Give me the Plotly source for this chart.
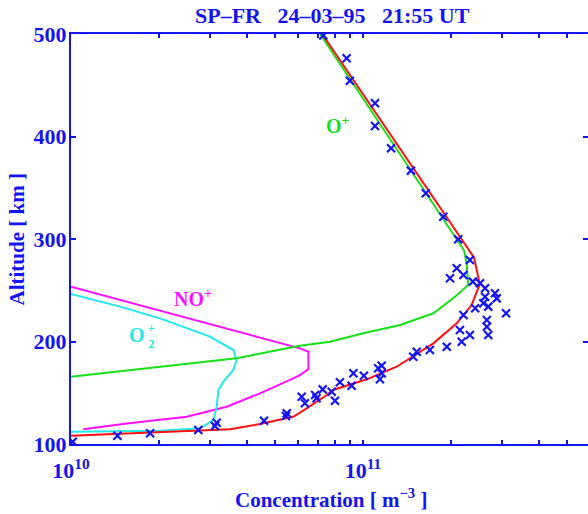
import numpy as np
import plotly.graph_objects as go

BLUE = "#1414f0"
FONT = "Liberation Serif"

# Model profiles: log10(concentration / m^-3) versus altitude (km)
ne_log = [10.0, 10.29, 10.545, 10.647, 10.761, 10.807, 10.876, 10.897, 11.013,
          11.115, 11.16, 11.241, 11.321, 11.372, 11.40, 11.38, 10.86]
ne_alt = [108.0, 111.0, 114.3, 119.5, 126.6, 134.8, 147.8, 152.7, 163.1,
          175.4, 183.6, 198.2, 217.8, 235.6, 256.0, 282.0, 500.0]

op_log = [10.0, 10.305, 10.567, 10.784, 10.887, 11.001, 11.127, 11.241, 11.309,
          11.36, 11.355, 11.346, 10.853]
op_alt = [165.7, 175.4, 183.6, 195.9, 199.8, 208.0, 216.1, 227.5, 242.1,
          255.0, 276.0, 289.0, 500.0]

nop_log = [10.0, 10.419, 10.784, 10.813, 10.813, 10.784, 10.761, 10.647, 10.533,
           10.396, 10.191, 10.042]
nop_alt = [253.5, 221.0, 193.3, 190.0, 173.0, 167.3, 164.0, 149.4, 136.4,
           126.6, 120.0, 114.3]

o2p_log = [10.0, 10.168, 10.305, 10.476, 10.556, 10.567, 10.556, 10.522, 10.505,
           10.499, 10.488, 10.442, 10.305, 10.0]
o2p_alt = [246.3, 234.0, 222.6, 204.7, 191.7, 182.0, 172.2, 160.8, 152.7,
           136.4, 123.4, 115.3, 113.0, 112.0]

# Measured electron density (radar)
obs_log = [10.006, 10.159, 10.271, 10.436, 10.493, 10.499, 10.661, 10.736, 10.739,
           10.790, 10.801, 10.836, 10.841, 10.862, 10.893, 10.904, 10.921, 10.961,
           10.967, 11.003, 11.052, 11.064, 11.058, 11.064, 11.172, 11.184, 11.229,
           11.287, 11.338, 11.332, 11.366, 11.429, 11.424, 11.424, 11.344, 11.490,
           11.384, 11.429, 11.412, 11.418, 11.458, 11.452, 11.418, 11.401, 11.376,
           11.298, 11.344, 11.321, 11.366, 11.326, 11.275, 11.215, 11.164, 11.096,
           11.041, 11.041, 10.955, 10.944, 10.864]
obs_alt = [102.2, 108.1, 110.4, 113.6, 117.6, 120.8, 122.7, 127.3, 130.0,
           146.1, 139.7, 147.8, 144.6, 153.3, 151.0, 142.2, 160.2, 156.9,
           169.0, 166.6, 173.9, 176.4, 163.1, 169.0, 185.2, 190.0, 191.7,
           194.9, 199.8, 211.2, 206.3, 206.3, 214.4, 221.0, 225.9, 227.5,
           232.4, 234.0, 237.3, 243.7, 242.1, 247.0, 251.9, 256.8, 258.4,
           261.7, 264.9, 271.4, 279.5, 299.7, 321.8, 344.6, 366.7, 388.5,
           410.2, 432.4, 454.4, 476.3, 498.5]

alt_ticks = [100, 200, 300, 400, 500]
conc_ticks = [1e10, 2e10, 3e10, 4e10, 5e10, 6e10, 7e10, 8e10, 9e10,
              1e11, 2e11, 3e11, 4e11, 5e11]
conc_ticktext = ["10<sup>10</sup>"] + [""] * 8 + ["10<sup>11</sup>"] + [""] * 4


def conc(logs):
    return [10.0 ** v for v in logs]


fig = go.Figure()

curves = [
    (nop_log, nop_alt, "#ff10ff"),
    (o2p_log, o2p_alt, "#22e8e8"),
    (op_log, op_alt, "#18e018"),
    (ne_log, ne_alt, "#ff1010"),
]
for lg, al, col in curves:
    fig.add_trace(go.Scatter(x=conc(lg), y=al, mode="lines",
                             line=dict(color=col, width=2),
                             showlegend=False, hoverinfo="skip"))

fig.add_trace(go.Scatter(x=conc(obs_log), y=obs_alt, mode="markers",
                         marker=dict(symbol="x-thin", size=8,
                                     line=dict(color=BLUE, width=2.2)),
                         showlegend=False, cliponaxis=True))

# invisible trace carrying the right-hand tick axis
fig.add_trace(go.Scatter(x=[None], y=[None], yaxis="y2", showlegend=False,
                         hoverinfo="skip"))

tick_font = dict(family=FONT, size=22, color=BLUE, weight="bold")

fig.update_layout(
    width=588, height=514,
    margin=dict(l=71, r=0, t=34, b=70),
    paper_bgcolor="white", plot_bgcolor="white",
    xaxis=dict(type="log", range=[10, 11.7705],
               tickvals=conc_ticks, ticktext=conc_ticktext,
               ticks="inside", ticklen=4, tickwidth=1.5, tickcolor=BLUE,
               showline=True, linecolor=BLUE, linewidth=2, mirror="ticks",
               showgrid=False, zeroline=False, tickfont=tick_font,
               ticklabelstandoff=6),
    yaxis=dict(range=[100, 500], tickvals=alt_ticks,
               ticks="inside", ticklen=5, tickwidth=1.5, tickcolor=BLUE,
               showline=True, linecolor=BLUE, linewidth=2, mirror=False,
               showgrid=False, zeroline=False, tickfont=tick_font,
               ticklabelstandoff=-2),
    yaxis2=dict(range=[100, 500], tickvals=alt_ticks, overlaying="y",
                side="right", ticks="inside", ticklen=5, tickwidth=1.5,
                tickcolor=BLUE, showline=False, showgrid=False,
                zeroline=False, showticklabels=False),
)

label_font = dict(family=FONT, size=20, weight="bold")
annotations = [
    dict(text="SP\u2013FR   24\u201303\u201395   21:55 UT", xref="paper", yref="paper",
         x=0.506, y=1.0463, xanchor="center", yanchor="middle", showarrow=False,
         font=dict(family=FONT, size=22, color=BLUE, weight="bold")),
    dict(text="Altitude [ km ]", xref="paper", yref="paper", x=-0.1035, y=0.5,
         xanchor="center", yanchor="middle", textangle=-90, showarrow=False,
         font=dict(family=FONT, size=21, color=BLUE, weight="bold")),
    dict(text="Concentration [ m<sup>\u22123</sup> ]", xref="paper", yref="paper",
         x=0.503, y=-0.134, xanchor="center", yanchor="middle", showarrow=False,
         font=dict(family=FONT, size=21, color=BLUE, weight="bold")),
    dict(text="NO<sup>+</sup>", x=10.418, y=242.4, showarrow=False,
         font=dict(label_font, color="#ff10ff")),
    dict(text="O", x=10.226, y=206.3, showarrow=False,
         font=dict(label_font, color="#22e8e8")),
    dict(text="+<br>2", x=10.274, y=205.0, showarrow=False,
         font=dict(family=FONT, size=12, weight="bold", color="#22e8e8")),
    dict(text="O<sup>+</sup>", x=10.914, y=411.2, showarrow=False,
         font=dict(label_font, color="#18e018")),
]
fig.update_layout(annotations=annotations)

fig.write_html("out.html")
